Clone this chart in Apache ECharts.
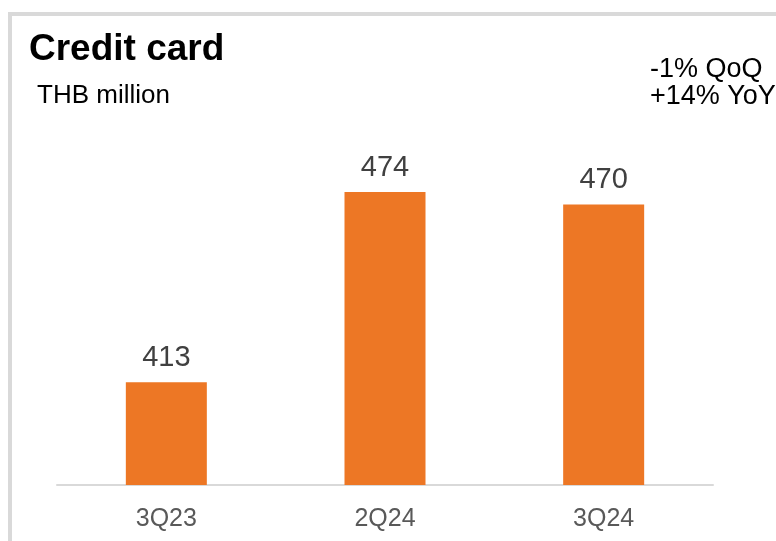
<!DOCTYPE html>
<html>
<head>
<meta charset="utf-8">
<script src="https://cdn.jsdelivr.net/npm/echarts@6/dist/echarts.min.js"></script>
<style>
  html, body { margin: 0; padding: 0; background: #ffffff; }
  #chart { width: 776px; height: 541px; }
</style>
</head>
<body>
<div id="chart"></div>
<script>
// Quarterly credit card figures, THB million
const quarters = ['3Q23', '2Q24', '3Q24'];
const creditCard = [413, 474, 470];
const changeNotes = ['-1% QoQ', '+14% YoY'];

const chart = echarts.init(document.getElementById('chart'));

chart.setOption({
  animation: false,
  backgroundColor: '#ffffff',
  textStyle: { fontFamily: 'Liberation Sans, Arial, sans-serif' },
  grid: { left: 57, right: 63, top: 111, bottom: 56 },
  xAxis: {
    type: 'category',
    data: quarters,
    axisLine: { show: true, lineStyle: { color: '#d9d9d9', width: 2 } },
    axisTick: { show: false },
    axisLabel: {
      color: '#595959',
      fontSize: 25,
      margin: 22,
      fontFamily: 'Liberation Sans, Arial, sans-serif'
    }
  },
  yAxis: {
    type: 'value',
    min: 380,
    max: 500,
    show: false,
    splitLine: { show: false }
  },
  series: [{
    type: 'bar',
    data: creditCard,
    barWidth: 81,
    itemStyle: { color: '#ED7725' },
    label: {
      show: true,
      position: 'top',
      distance: 10,
      color: '#404040',
      fontSize: 29,
      fontFamily: 'Liberation Sans, Arial, sans-serif'
    }
  }],
  graphic: [
    // panel frame along the top and left edges
    { type: 'rect', shape: { x: 8, y: 12, width: 768, height: 4 }, style: { fill: '#d9d9d9' }, silent: true },
    { type: 'rect', shape: { x: 8, y: 12, width: 4, height: 529 }, style: { fill: '#d9d9d9' }, silent: true },
    {
      type: 'text', left: 29, top: 31,
      style: {
        text: 'Credit card', fill: '#000000',
        font: 'bold 37px Liberation Sans, Arial, sans-serif'
      }
    },
    {
      type: 'text', left: 37, top: 83,
      style: {
        text: 'THB million', fill: '#000000',
        font: '26px Liberation Sans, Arial, sans-serif'
      }
    },
    {
      type: 'text', x: 650, y: 56,
      style: {
        text: changeNotes.join('\n'), fill: '#000000',
        font: '27px Liberation Sans, Arial, sans-serif',
        lineHeight: 27
      }
    }
  ]
});
</script>
</body>
</html>
